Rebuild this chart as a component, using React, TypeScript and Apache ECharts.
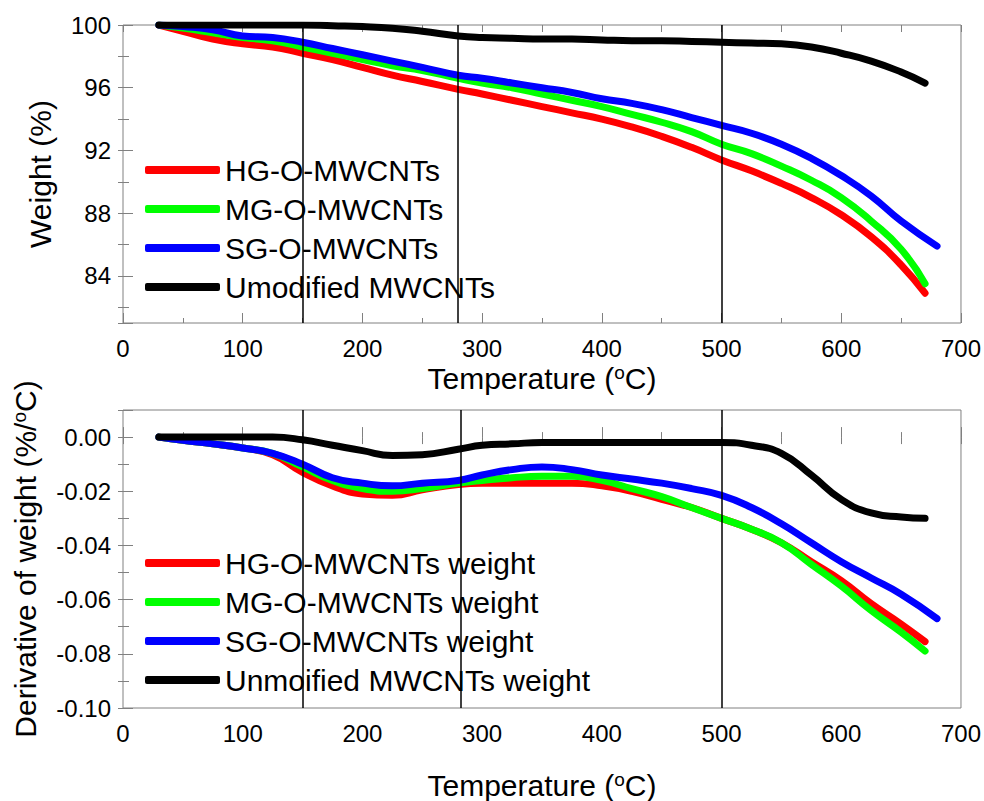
import React, { useEffect, useRef } from 'react';
import * as echarts from 'echarts';

const FONT = '"Liberation Sans", Arial, sans-serif';

// Temperatures (°C)
const tempsA = [30, 50, 75, 100, 125, 150, 175, 200, 225, 250, 280, 300, 325, 350, 375, 400, 425, 450, 475, 500, 525, 550, 575, 600, 625, 650, 670];
const tempsB = [30, 50, 75, 100, 125, 150, 175, 200, 225, 250, 280, 300, 325, 350, 375, 400, 425, 450, 475, 500, 525, 550, 575, 600, 625, 650, 680];

// Top panel: weight (%)
const hgWeight = [100, 99.6, 99.1, 98.8, 98.6, 98.2, 97.8, 97.3, 96.8, 96.4, 95.9, 95.6, 95.2, 94.8, 94.4, 94.0, 93.5, 92.9, 92.2, 91.4, 90.7, 89.9, 89.0, 87.9, 86.5, 84.7, 82.9];
const mgWeight = [100, 99.8, 99.5, 99.2, 99.0, 98.6, 98.2, 97.8, 97.4, 97.1, 96.6, 96.3, 96.0, 95.6, 95.2, 94.8, 94.3, 93.8, 93.2, 92.4, 91.8, 91.0, 90.1, 89.0, 87.5, 85.7, 83.5];
const sgWeight = [100, 99.9, 99.7, 99.3, 99.2, 98.9, 98.5, 98.1, 97.7, 97.3, 96.8, 96.6, 96.3, 96.0, 95.7, 95.3, 95.0, 94.6, 94.1, 93.6, 93.1, 92.4, 91.5, 90.4, 89.1, 87.5, 85.9];
const umWeight = [100, 100, 100, 100, 100, 100, 99.95, 99.9, 99.8, 99.6, 99.3, 99.2, 99.15, 99.1, 99.1, 99.05, 99.0, 99.0, 98.95, 98.9, 98.85, 98.8, 98.6, 98.2, 97.7, 97.0, 96.3];

// Bottom panel: derivative of weight (%/°C)
const hgDeriv = [0, -0.0012, -0.0025, -0.004, -0.0065, -0.013, -0.018, -0.021, -0.0215, -0.0195, -0.0175, -0.017, -0.017, -0.017, -0.017, -0.018, -0.02, -0.023, -0.026, -0.03, -0.034, -0.039, -0.046, -0.053, -0.0615, -0.069, -0.0755];
const mgDeriv = [0, -0.0012, -0.0025, -0.004, -0.006, -0.011, -0.016, -0.019, -0.02, -0.019, -0.017, -0.016, -0.015, -0.0145, -0.0145, -0.016, -0.019, -0.022, -0.026, -0.03, -0.034, -0.039, -0.047, -0.055, -0.064, -0.072, -0.079];
const sgDeriv = [0, -0.0012, -0.0025, -0.004, -0.006, -0.01, -0.015, -0.017, -0.018, -0.017, -0.016, -0.014, -0.012, -0.011, -0.012, -0.014, -0.0155, -0.017, -0.019, -0.0215, -0.026, -0.032, -0.039, -0.046, -0.052, -0.058, -0.067];
const umDeriv = [0, 0, 0, 0, 0, -0.001, -0.003, -0.005, -0.0068, -0.0065, -0.0045, -0.003, -0.0025, -0.002, -0.002, -0.002, -0.002, -0.002, -0.002, -0.002, -0.003, -0.006, -0.014, -0.023, -0.028, -0.0295, -0.03];

const topNames = ['HG-O-MWCNTs', 'MG-O-MWCNTs', 'SG-O-MWCNTs', 'Umodified MWCNTs'];
const bottomNames = ['HG-O-MWCNTs weight', 'MG-O-MWCNTs weight', 'SG-O-MWCNTs weight', 'Unmoified MWCNTs weight'];
const colors = ['#ff0000', '#00ff00', '#0000ff', '#000000'];
const topMarkers = [150, 280, 500];
const bottomMarkers = [150, 282, 500];

const zip = (xs: number[], ys: number[]) => ys.map((y, i) => [xs[i], y]);

export default function App() {
  const ref = useRef<HTMLDivElement>(null);
  useEffect(() => {
    document.body.style.margin = '0';
    const chart = echarts.init(ref.current!, null, { renderer: 'svg' });
    const gray = '#808080';
    const nameRich = {
      a: { fontSize: 30, fontFamily: FONT, color: '#000' },
      s: { fontSize: 19, fontFamily: FONT, color: '#000', verticalAlign: 'top' as const },
    };
    const xBottom = (grid: number, gap: number) => ({
      type: 'value', gridIndex: grid, position: 'bottom', min: 0, max: 700, interval: 100,
      axisLine: { show: false },
      axisTick: { show: true, inside: true, length: 10, lineStyle: { color: gray } },
      minorTick: { show: true, splitNumber: 2, length: 5, lineStyle: { color: gray } },
      splitLine: { show: false },
      axisLabel: { fontSize: 24, fontFamily: FONT, color: '#000', margin: 13 },
      name: '{a|Temperature (}{s|o}{a|C)}', nameLocation: 'middle', nameGap: gap,
      nameTextStyle: { fontSize: 30, fontFamily: FONT, color: '#000', rich: nameRich },
    });
    const xTop = (grid: number) => ({
      type: 'value', gridIndex: grid, position: 'top', min: 0, max: 700, interval: 100,
      axisLine: { show: false },
      axisTick: { show: true, inside: true, length: 7, lineStyle: { color: gray } },
      minorTick: { show: true, splitNumber: 2, length: 7, lineStyle: { color: gray } },
      splitLine: { show: false }, axisLabel: { show: false },
    });
    const yRight = (grid: number, min: number, max: number, step: number) => ({
      type: 'value', gridIndex: grid, position: 'right', min, max, minInterval: step, maxInterval: step,
      axisLine: { show: false },
      axisTick: { show: true, inside: true, length: 5, lineStyle: { color: gray } },
      minorTick: { show: true, splitNumber: 2, length: 5, lineStyle: { color: gray } },
      splitLine: { show: false }, axisLabel: { show: false },
    });
    const lineSeries = (name: string, x: number, y: number, data: number[][], color: string, markers?: number[]) => ({
      type: 'line', name, xAxisIndex: x, yAxisIndex: y, data, showSymbol: false, symbol: 'none',
      smooth: 0.5,
      lineStyle: { width: 7, color, cap: 'round', join: 'round' }, itemStyle: { color },
      emphasis: { disabled: true }, silent: true,
      markLine: markers ? {
        silent: true, symbol: ['none', 'none'], label: { show: false },
        lineStyle: { color: '#000', width: 1.5, type: 'solid' },
        emphasis: { disabled: true },
        data: markers.map((m) => ({ xAxis: m })),
      } : undefined,
    });
    const legend = (top: number, names: string[]) => ({
      orient: 'vertical', left: 140, top, itemWidth: 75, itemHeight: 8, itemGap: 9,
      icon: 'roundRect', selectedMode: false,
      textStyle: { fontSize: 30, fontFamily: FONT, color: '#000' },
      data: names,
    });
    chart.setOption({
      animation: false,
      backgroundColor: '#fff',
      grid: [
        { left: 123, top: 25, width: 838, height: 298, show: true, borderColor: gray, borderWidth: 1, backgroundColor: 'transparent' },
        { left: 123, top: 410, width: 838, height: 300, show: true, borderColor: gray, borderWidth: 1, backgroundColor: 'transparent' },
      ],
      legend: [legend(150, topNames), legend(543, bottomNames)],
      xAxis: [xBottom(0, 40), xTop(0), xBottom(1, 62), xTop(1)],
      yAxis: [
        {
          type: 'value', gridIndex: 0, position: 'left', min: 81, max: 100, minInterval: 4, maxInterval: 4,
          axisLine: { show: false },
          axisTick: { show: true, inside: true, length: 10, lineStyle: { color: gray } },
          minorTick: { show: true, splitNumber: 2, length: 6, lineStyle: { color: gray } },
          splitLine: { show: false },
          axisLabel: { fontSize: 24, fontFamily: FONT, color: '#000', margin: 12, formatter: (v: number) => (Math.abs(v % 4) < 1e-9 ? String(v) : '') },
          name: 'Weight (%)', nameLocation: 'middle', nameRotate: 90, nameGap: 68,
          nameTextStyle: { fontSize: 30, fontFamily: FONT, color: '#000' },
        },
        yRight(0, 81, 100, 4),
        {
          type: 'value', gridIndex: 1, position: 'left', min: -0.1, max: 0.01, minInterval: 0.02, maxInterval: 0.02,
          axisLine: { show: false },
          axisTick: { show: true, inside: true, length: 10, lineStyle: { color: gray } },
          minorTick: { show: true, splitNumber: 2, length: 6, lineStyle: { color: gray } },
          splitLine: { show: false },
          axisLabel: {
            fontSize: 24, fontFamily: FONT, color: '#000', margin: 12,
            formatter: (v: number) => (v > 0.005 ? '' : Math.abs(v) < 1e-9 ? '0.00' : v.toFixed(2)),
          },
          name: '{a|Derivative of weight (%/}{s|o}{a|C)}', nameLocation: 'middle', nameRotate: 90, nameGap: 83,
          nameTextStyle: { fontSize: 30, fontFamily: FONT, color: '#000', rich: nameRich },
        },
        yRight(1, -0.1, 0.01, 0.02),
      ],
      series: [
        lineSeries(topNames[0], 0, 0, zip(tempsA, hgWeight), colors[0]),
        lineSeries(topNames[1], 0, 0, zip(tempsA, mgWeight), colors[1]),
        lineSeries(topNames[2], 0, 0, zip(tempsB, sgWeight), colors[2]),
        lineSeries(topNames[3], 0, 0, zip(tempsA, umWeight), colors[3], topMarkers),
        lineSeries(bottomNames[0], 2, 2, zip(tempsA, hgDeriv), colors[0]),
        lineSeries(bottomNames[1], 2, 2, zip(tempsA, mgDeriv), colors[1]),
        lineSeries(bottomNames[2], 2, 2, zip(tempsB, sgDeriv), colors[2]),
        lineSeries(bottomNames[3], 2, 2, zip(tempsA, umDeriv), colors[3], bottomMarkers),
      ],
    });
    return () => chart.dispose();
  }, []);
  return <div ref={ref} style={{ width: 984, height: 801 }} />;
}
